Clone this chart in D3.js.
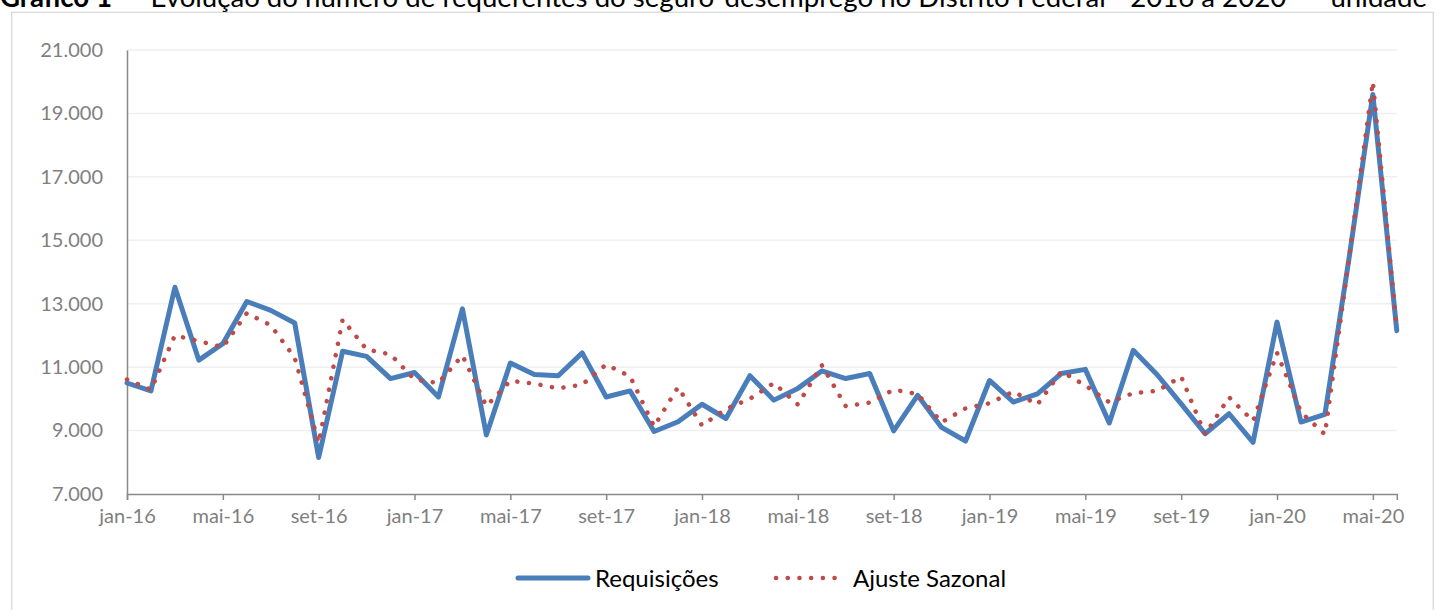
<!DOCTYPE html>
<html>
<head>
<meta charset="utf-8">
<script src="https://cdn.jsdelivr.net/npm/d3@7"></script>
<style>
  html, body { margin: 0; padding: 0; background: #fff; }
  svg { display: block; font-family: Lato, "Open Sans", sans-serif; }
</style>
</head>
<body>
<svg id="chart" width="1439" height="610"></svg>
<script>
// ---- data ----
const months = [
  "jan-16","fev-16","mar-16","abr-16","mai-16","jun-16","jul-16","ago-16","set-16","out-16","nov-16","dez-16",
  "jan-17","fev-17","mar-17","abr-17","mai-17","jun-17","jul-17","ago-17","set-17","out-17","nov-17","dez-17",
  "jan-18","fev-18","mar-18","abr-18","mai-18","jun-18","jul-18","ago-18","set-18","out-18","nov-18","dez-18",
  "jan-19","fev-19","mar-19","abr-19","mai-19","jun-19","jul-19","ago-19","set-19","out-19","nov-19","dez-19",
  "jan-20","fev-20","mar-20","abr-20","mai-20","jun-20"
];
const requisicoes = [
  10500, 10250, 13520, 11220, 11740, 13070, 12790, 12390, 8150, 11500, 11340, 10640,
  10830, 10060, 12840, 8860, 11130, 10770, 10730, 11450, 10060, 10250, 8970, 9280,
  9830, 9380, 10730, 9960, 10330, 10880, 10640, 10800, 8990, 10110, 9100, 8670,
  10580, 9900, 10160, 10800, 10930, 9240, 11530, 10760, 9840, 8900, 9530, 8630,
  12420, 9270, 9510, 14400, 19600, 12150
];
const ajusteSazonal = [
  10610, 10290, 12000, 11820, 11630, 12700, 12320, 11300, 8610, 12500, 11560, 11400,
  10610, 10500, 11370, 9770, 10570, 10480, 10330, 10450, 11080, 10710, 9130, 10370,
  9160, 9680, 10000, 10500, 9820, 11060, 9770, 9880, 10290, 10150, 9260, 9700,
  9860, 10230, 9820, 10870, 10420, 9890, 10180, 10250, 10700, 8880, 10050, 9300,
  11450, 9580, 8880, 14400, 20000, 12200
];
const xTickLabels = ["jan-16","mai-16","set-16","jan-17","mai-17","set-17","jan-18","mai-18","set-18",
  "jan-19","mai-19","set-19","jan-20","mai-20"];
const yTickValues = [7000, 9000, 11000, 13000, 15000, 17000, 19000, 21000];
const seriesNames = ["Requisições", "Ajuste Sazonal"];
const titleBold = "Gráfico 1";
const titleRest = "  -  Evolução do número de requerentes do seguro-desemprego no Distrito Federal - 2016 a 2020  –  unidade";

// ---- drawing ----
const svg = d3.select("#chart");
const W = 1439, H = 610;
const blue = "#4A7EBB", red = "#BE4B48", axisGray = "#898989", textGray = "#7f7f7f";

svg.append("rect").attr("width", W).attr("height", H).attr("fill", "#fff");

// chart border
svg.append("rect")
  .attr("x", 11.7).attr("y", 12.3).attr("width", 1421.5).attr("height", 640)
  .attr("fill", "none").attr("stroke", "#d9d9d9").attr("stroke-width", 1.3);

// title (cut off at top)
const title = svg.append("text")
  .attr("x", 0).attr("y", 7)
  .attr("fill", "#000")
  .style("white-space", "pre")
  .attr("font-size", 22);
title.append("tspan").attr("font-weight", "bold").text(titleBold);
title.append("tspan").text(titleRest);
const tw = title.node().getComputedTextLength();
title.attr("font-size", 22 * 1428 / tw);

const x = d3.scalePoint().domain(months).range([127, 1396.8]);
const y = d3.scaleLinear().domain([7000, 21000]).range([494, 50]);

const fmt = d3.formatLocale({decimal: ",", thousands: ".", grouping: [3], currency: ["R$", ""]}).format(",d");

// gridlines
svg.append("g").selectAll("line")
  .data(yTickValues.filter(v => v > 7000))
  .join("line")
  .attr("x1", x(months[0])).attr("x2", x(months[months.length - 1]))
  .attr("y1", d => y(d)).attr("y2", d => y(d))
  .attr("stroke", "#efefef").attr("stroke-width", 1.5);

// y axis
const yAxis = svg.append("g")
  .attr("transform", `translate(${x(months[0])},0)`)
  .call(d3.axisLeft(y).tickValues(yTickValues).tickFormat(fmt).tickSize(0).tickPadding(24));
yAxis.select(".domain").attr("stroke", axisGray).attr("stroke-width", 1.5);
yAxis.selectAll("text").attr("fill", textGray).attr("font-size", 20).attr("font-family", "Lato, sans-serif");

// x axis
const xAxis = svg.append("g")
  .attr("transform", `translate(0,${y(7000)})`)
  .call(d3.axisBottom(x).tickValues(xTickLabels).tickSize(6).tickPadding(9));
xAxis.select(".domain").attr("stroke", axisGray).attr("stroke-width", 1.5);
xAxis.selectAll(".tick line").attr("stroke", axisGray).attr("stroke-width", 1.5);
xAxis.selectAll("text").attr("fill", textGray).attr("font-size", 20).attr("font-family", "Lato, sans-serif");

// lines
const line = d3.line().x((d, i) => x(months[i])).y(d => y(d));
svg.append("path")
  .datum(requisicoes)
  .attr("d", line)
  .attr("fill", "none").attr("stroke", blue).attr("stroke-width", 5)
  .attr("stroke-linejoin", "round").attr("stroke-linecap", "round");
svg.append("path")
  .datum(ajusteSazonal)
  .attr("d", line)
  .attr("fill", "none").attr("stroke", red).attr("stroke-width", 4.5)
  .attr("stroke-dasharray", "0.1 11.6")
  .attr("stroke-linejoin", "round").attr("stroke-linecap", "round");

// legend
const lg = svg.append("g");
lg.append("line").attr("x1", 518).attr("x2", 588).attr("y1", 578).attr("y2", 578)
  .attr("stroke", blue).attr("stroke-width", 5).attr("stroke-linecap", "round");
lg.append("text").attr("x", 595).attr("y", 587).attr("font-size", 24).attr("fill", "#000").text(seriesNames[0]);
lg.append("line").attr("x1", 776).attr("x2", 840).attr("y1", 578).attr("y2", 578)
  .attr("stroke", red).attr("stroke-width", 4.5).attr("stroke-dasharray", "0.1 11.6").attr("stroke-linecap", "round");
lg.append("text").attr("x", 853).attr("y", 587).attr("font-size", 24).attr("fill", "#000").text(seriesNames[1]);
</script>
</body>
</html>
